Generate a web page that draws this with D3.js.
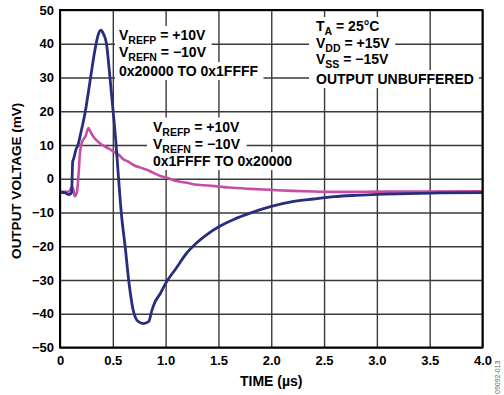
<!DOCTYPE html>
<html>
<head>
<meta charset="utf-8">
<script src="https://cdn.jsdelivr.net/npm/d3@7"></script>
<style>
  html, body { margin: 0; padding: 0; background: #fff; }
  svg { display: block; font-family: "Liberation Sans", Arial, Helvetica, sans-serif; font-weight: bold; }
</style>
</head>
<body>
<svg id="chart" width="504" height="395"></svg>
<script>
// ---- data ----
const xTickValues = [0, 0.5, 1.0, 1.5, 2.0, 2.5, 3.0, 3.5, 4.0];
const xTickLabels = ["0", "0.5", "1.0", "1.5", "2.0", "2.5", "3.0", "3.5", "4.0"];
const yTickValues = [-50, -40, -30, -20, -10, 0, 10, 20, 30, 40, 50];
const yTickLabels = ["\u221250", "\u221240", "\u221230", "\u221220", "\u221210", "0", "10", "20", "30", "40", "50"];

// rising code transition 0x20000 -> 0x1FFFF (navy)
const blueTime = [0, 0.05, 0.08, 0.10, 0.11, 0.12, 0.13, 0.15, 0.17, 0.20, 0.24, 0.28, 0.33, 0.36, 0.385, 0.41, 0.44, 0.47, 0.50, 0.53, 0.55, 0.58, 0.62, 0.65, 0.69, 0.74, 0.79, 0.84, 0.87, 0.90, 0.95, 1.00, 1.10, 1.20, 1.30, 1.40, 1.50, 1.65, 1.80, 2.00, 2.20, 2.40, 2.60, 2.80, 3.00, 3.30, 3.60, 4.00];
const blueVolt = [-4.0, -4.2, -4.7, -4.5, -4.0, 5.0, 6.0, 8.5, 10.0, 14.0, 20.0, 28.0, 38.0, 42.5, 44.0, 43.0, 40.0, 31.0, 21.0, 10.5, 2.0, -10.0, -21.0, -30.0, -38.5, -42.3, -42.9, -42.3, -39.0, -36.5, -34.0, -31.0, -26.5, -22.0, -18.8, -16.3, -14.3, -12.0, -10.2, -8.2, -6.8, -6.0, -5.3, -4.9, -4.6, -4.4, -4.2, -4.1];

// falling code transition 0x1FFFF -> 0x20000 (magenta)
const pinkTime = [0, 0.05, 0.09, 0.11, 0.125, 0.14, 0.16, 0.175, 0.19, 0.21, 0.24, 0.27, 0.29, 0.32, 0.36, 0.41, 0.46, 0.51, 0.56, 0.60, 0.65, 0.70, 0.76, 0.82, 0.88, 0.95, 1.02, 1.10, 1.20, 1.30, 1.40, 1.50, 1.60, 1.80, 2.00, 2.20, 2.40, 2.60, 2.80, 3.00, 3.40, 4.00];
const pinkVolt = [-3.8, -3.9, -3.7, -2.5, -3.0, -5.2, -4.0, 1.0, 8.0, 11.0, 12.5, 15.0, 13.8, 12.3, 11.0, 9.8, 9.0, 8.0, 7.0, 5.8, 5.0, 4.0, 3.3, 2.7, 1.8, 0.8, 0.2, -0.7, -1.2, -1.8, -2.0, -2.3, -2.6, -3.0, -3.3, -3.6, -3.8, -3.9, -3.9, -3.8, -3.8, -3.7];

// annotations: each line is a list of [text, isSubscript]
const noteRise = [
  [["V", 0], ["REFP", 1], [" = +10V", 0]],
  [["V", 0], ["REFN", 1], [" = \u221210V", 0]],
  [["0x20000 TO 0x1FFFF", 0]]
];
const noteFall = [
  [["V", 0], ["REFP", 1], [" = +10V", 0]],
  [["V", 0], ["REFN", 1], [" = \u221210V", 0]],
  [["0x1FFFF TO 0x20000", 0]]
];
const noteCond = [
  [["T", 0], ["A", 1], [" = 25\u00B0C", 0]],
  [["V", 0], ["DD", 1], [" = +15V", 0]],
  [["V", 0], ["SS", 1], [" = \u221215V", 0]],
  [["OUTPUT UNBUFFERED", 0]]
];

// ---- layout ----
const svg = d3.select("#chart");
const L = 60, R = 482.5, T = 10, B = 347.5;
const x = d3.scaleLinear().domain([0, 4]).range([L, R]);
const y = d3.scaleLinear().domain([-50, 50]).range([B, T]);

const gridLayer = svg.append("g");
const bgLayer = svg.append("g");
const curveLayer = svg.append("g");
const textLayer = svg.append("g");
const frameLayer = svg.append("g");

// grid + tick labels via axes
const yAxis = d3.axisLeft(y).tickValues(yTickValues)
  .tickFormat((d, i) => yTickLabels[i]).tickSize(-(R - L)).tickPadding(6);
const gy = gridLayer.append("g").attr("transform", `translate(${L},0)`).call(yAxis);
const xAxis = d3.axisBottom(x).tickValues(xTickValues)
  .tickFormat((d, i) => xTickLabels[i]).tickSize(-(B - T)).tickPadding(8);
const gx = gridLayer.append("g").attr("transform", `translate(0,${B})`).call(xAxis);
[gx, gy].forEach(g => {
  g.select(".domain").remove();
  g.selectAll(".tick line").attr("stroke", "#3a3a3a").attr("stroke-width", 1.4);
  g.selectAll(".tick text").attr("fill", "#000").attr("font-size", 13)
    .attr("font-family", "'Liberation Sans', Arial, sans-serif").attr("font-weight", "bold");
});

// annotations
function drawNote(lines, x0, baselines, padL, padR) {
  lines.forEach((segs, i) => {
    const t = textLayer.append("text").attr("x", x0).attr("y", baselines[i])
      .attr("font-size", 14).attr("fill", "#000");
    segs.forEach(([s, sub], j) => {
      const ts = t.append("tspan").text(s);
      if (sub) ts.attr("font-size", 10.5).attr("dy", 4);
      else if (j > 0 && segs[j - 1][1]) ts.attr("dy", -4);
    });
    const bb = t.node().getBBox();
    bgLayer.append("rect").attr("x", bb.x - padL).attr("y", bb.y - 1)
      .attr("width", bb.width + padL + padR).attr("height", bb.height + 2)
      .attr("fill", "#fff");
  });
}
drawNote(noteRise, 119, [40, 57, 76], 4, 5);
drawNote(noteFall, 153, [131.5, 148.5, 166], 6, 6);
drawNote(noteCond, 316, [31, 47.5, 64, 84], 7, 5);

// curves
const line = d3.line().x(d => x(d[0])).y(d => y(d[1])).curve(d3.curveMonotoneX);
curveLayer.append("path").datum(pinkTime.map((t, i) => [t, pinkVolt[i]]))
  .attr("d", line).attr("fill", "none").attr("stroke", "#c64ea2").attr("stroke-width", 2.6)
  .attr("stroke-linejoin", "round");
curveLayer.append("path").datum(blueTime.map((t, i) => [t, blueVolt[i]]))
  .attr("d", line).attr("fill", "none").attr("stroke", "#292d7d").attr("stroke-width", 2.8)
  .attr("stroke-linejoin", "round");

// frame
frameLayer.append("rect").attr("x", L).attr("y", T).attr("width", R - L).attr("height", B - T)
  .attr("fill", "none").attr("stroke", "#000").attr("stroke-width", 2);

// axis titles
frameLayer.append("text").attr("x", (L + R) / 2).attr("y", 386).attr("text-anchor", "middle")
  .attr("font-size", 14).text("TIME (\u00B5s)");
frameLayer.append("text").attr("transform", `translate(21,${(T + B) / 2 + 2}) rotate(-90)`)
  .attr("text-anchor", "middle").attr("font-size", 13.5).text("OUTPUT VOLTAGE (mV)");

// figure code
frameLayer.append("text").attr("transform", "translate(500,394) rotate(-90)")
  .attr("font-size", 7).attr("font-weight", "normal").attr("fill", "#666").text("09092-013");
</script>
</body>
</html>
